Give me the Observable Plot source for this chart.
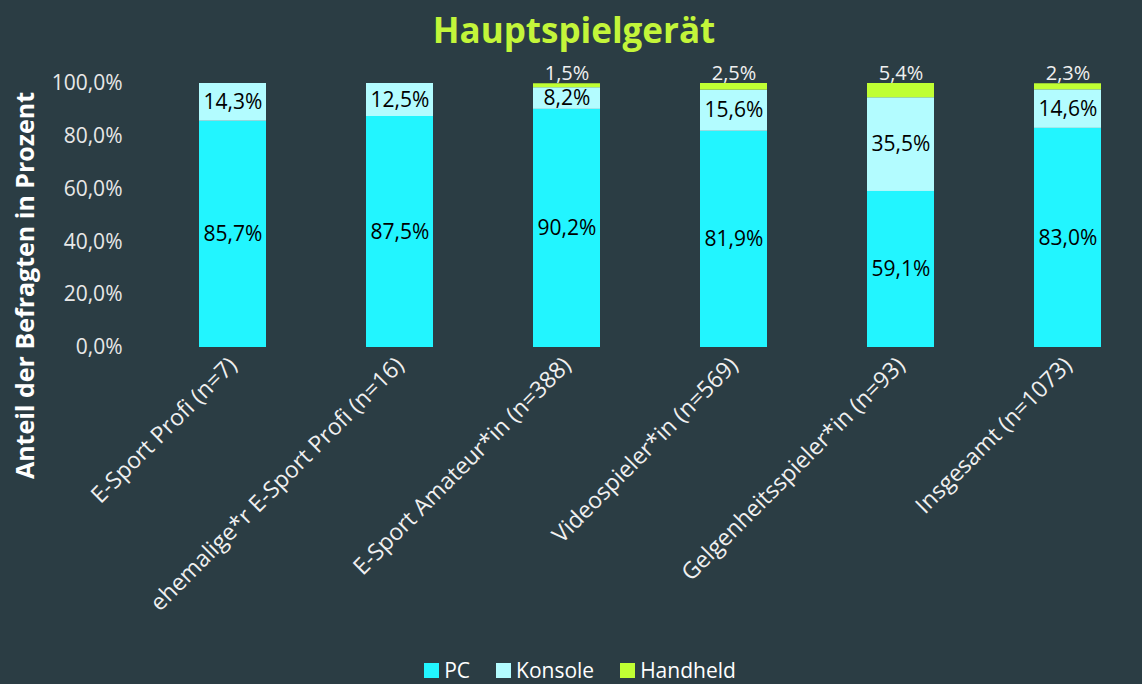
<!DOCTYPE html>
<html><head><meta charset="utf-8">
<script src="https://cdn.jsdelivr.net/npm/d3@7"></script>
<script src="https://cdn.jsdelivr.net/npm/@observablehq/plot@0.6"></script>
<style>
html,body{margin:0;padding:0;background:#2B3D44;width:1142px;height:684px;overflow:hidden;font-family:"Open Sans",sans-serif;}
#title{height:58px;line-height:60px;text-align:center;color:#C3F53A;font-weight:bold;font-size:35px;padding-left:6px;}
#chart svg{display:block;}
#legend{display:flex;justify-content:center;align-items:center;height:26px;line-height:1;color:#fff;font-size:21px;padding-left:18px;margin-top:9px;}
#legend span.sw{display:inline-block;width:15px;height:15px;margin-right:5px;}
#legend .it{display:flex;align-items:center;margin:0 13px;}
</style></head>
<body>
<div id="title">Hauptspielgerät</div>
<div id="chart"></div>
<div id="legend"></div>
<script>
const categories = ["E-Sport Profi (n=7)", "ehemalige*r E-Sport Profi (n=16)", "E-Sport Amateur*in (n=388)", "Videospieler*in (n=569)", "Gelgenheitsspieler*in (n=93)", "Insgesamt (n=1073)"];
const devices = ["PC", "Konsole", "Handheld"];
const pc = [85.7, 87.5, 90.2, 81.9, 59.1, 83.0];
const konsole = [14.3, 12.5, 8.2, 15.6, 35.5, 14.6];
const handheld = [0, 0, 1.5, 2.5, 5.4, 2.3];
const colors = ["#22F5FF", "#B3FCFF", "#C0FF33"];
const yTicks = [0, 20, 40, 60, 80, 100];

const series = [pc, konsole, handheld];
const data = [];
devices.forEach((d, i) => categories.forEach((c, j) => data.push({category: c, device: d, value: series[i][j]})));
const fmt = v => v.toFixed(1).replace(".", ",") + "%";

const chart = Plot.plot({
  width: 1142, height: 590,
  marginTop: 25, marginBottom: 301, marginLeft: 148, marginRight: 0,
  style: {background: "transparent", color: "#fff", fontFamily: "Open Sans, sans-serif", fontSize: "18px"},
  x: {domain: categories, range: [148, 1151], paddingInner: 0.6, paddingOuter: 0.3},
  y: {domain: [0, 100]},
  color: {domain: devices, range: colors},
  marks: [
    Plot.gridY(yTicks, {stroke: "#D0D0D0", strokeOpacity: 1, strokeWidth: 2, x1: 148, x2: 1142}),
    Plot.barY(data, {x: "category", y: "value", fill: "device", order: devices}),
    Plot.axisY({ticks: yTicks, tickFormat: d => d.toFixed(1).replace(".", ",") + "%", tickSize: 0, tickPadding: 26, fontSize: 21, label: null, fill: "#E8E8E8"}),
    Plot.axisX({tickSize: 0, tickRotate: -45, tickPadding: 14, fontSize: 23, label: null, fill: "#F0F0F0"}),
    Plot.text(data, Plot.stackY({x: "category", y: "value", z: "device", order: devices, text: d => d.device !== "Handheld" ? fmt(d.value) : "", fill: "#000", fontSize: 21})),
    Plot.text(data, Plot.stackY2({x: "category", y: "value", z: "device", order: devices, text: d => d.device === "Handheld" && d.value > 0 ? fmt(d.value) : "", fill: "#F0F0F0", fontSize: 20, lineAnchor: "bottom", dy: -4})),
    Plot.text(["Anteil der Befragten in Prozent"], {frameAnchor: "left", textAnchor: "middle", dx: -123, dy: 70, rotate: -90, fontWeight: "bold", fontSize: 25, fill: "#fff"})
  ]
});
document.getElementById("chart").appendChild(chart);

const leg = document.getElementById("legend");
devices.forEach((d, i) => {
  const it = document.createElement("div"); it.className = "it";
  it.innerHTML = `<span class="sw" style="background:${colors[i]}"></span>${d}`;
  leg.appendChild(it);
});
</script>
</body></html>
